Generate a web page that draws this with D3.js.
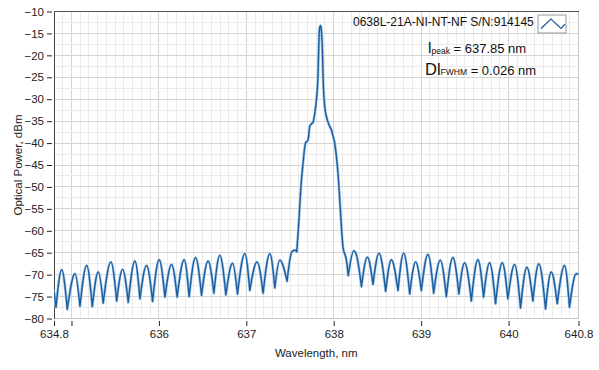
<!DOCTYPE html>
<html>
<head>
<meta charset="utf-8">
<script src="https://cdn.jsdelivr.net/npm/d3@7"></script>
<style>
html,body{margin:0;padding:0;background:#fff;}
svg{display:block;font-family:"Liberation Sans",Arial,sans-serif;}
</style>
</head>
<body>
<svg id="chart" width="599" height="370"></svg>
<script>
// ---- data ----
const wavelength = [
 634.800,634.823,634.888,634.952,635.040,635.097,635.174,635.238,635.306,635.363,
 635.451,635.517,635.585,635.649,635.726,635.783,635.859,635.928,636.003,636.069,
 636.145,636.209,636.289,636.346,636.419,636.488,636.563,636.629,636.697,636.766,
 636.842,636.899,636.983,637.040,637.123,637.192,637.269,637.326,637.383,637.466,
 637.520,637.554,637.577,637.592,637.611,637.631,637.649,637.677,637.706,637.726,
 637.745,637.763,637.783,637.802,637.821,637.829,637.838,637.848,637.857,637.869,
 637.878,637.897,637.917,637.954,637.974,637.992,638.011,638.031,638.049,638.069,
 638.088,638.106,638.145,638.166,638.229,638.251,638.317,638.385,638.449,638.518,
 638.594,638.659,638.735,638.800,638.869,638.937,639.002,639.078,639.143,639.219,
 639.288,639.363,639.432,639.497,639.574,639.649,639.714,639.783,639.851,639.928,
 639.992,640.069,640.137,640.209,640.278,640.346,640.423,640.488,640.557,640.640,
 640.697,640.774,640.800
];
const power = [
 -73.8,-77.4,-68.9,-77.9,-69.8,-77.2,-67.9,-77.3,-69.4,-76.5,
 -67.1,-76.0,-68.8,-76.3,-66.9,-75.5,-67.9,-76.1,-66.6,-75.1,
 -67.7,-75.1,-66.6,-75.0,-66.1,-74.7,-66.9,-74.2,-65.6,-74.6,
 -67.4,-74.4,-65.2,-73.6,-67.1,-74.2,-65.2,-73.0,-66.7,-71.5,
 -64.8,-64.4,-64.8,-60.6,-54.5,-48.4,-44.6,-40.0,-39.3,-36.2,
 -35.6,-35.3,-33.2,-30.1,-24.0,-17.5,-13.8,-13.2,-13.9,-18.0,
 -25.0,-31.7,-34.0,-36.2,-37.0,-38.4,-40.0,-43.1,-46.9,-53.0,
 -59.1,-63.7,-66.7,-70.2,-64.6,-65.0,-72.7,-66.0,-72.2,-65.1,
 -73.8,-66.6,-73.6,-65.1,-74.4,-67.1,-73.6,-65.4,-74.2,-66.7,
 -75.0,-66.1,-74.4,-67.3,-76.0,-66.6,-75.1,-67.3,-76.6,-67.3,
 -75.5,-67.7,-77.6,-68.3,-76.0,-67.5,-77.8,-69.4,-76.6,-67.9,
 -77.4,-69.8,-69.9
];
const xTickValues = [634.8, 635, 636, 637, 638, 639, 640, 640.8];
const xTickLabels = ["634.8", "", "636", "637", "638", "639", "640", "640.8"];
const yTickValues = [-10,-15,-20,-25,-30,-35,-40,-45,-50,-55,-60,-65,-70,-75,-80];
const xDomain = [634.8, 640.8];
const yDomain = [-80, -10];
const xTitle = "Wavelength, nm";
const yTitle = "Optical Power, dBm";
const legendLabel = "0638L-21A-NI-NT-NF S/N:914145";
const peakLabel = ["l", "peak", " = 637.85 nm"];
const fwhmLabel = ["Dl", "FWHM", " = 0.026 nm"];

// ---- layout ----
const L = 54, R = 578.5, T = 11.5, B = 318.5;
const svg = d3.select("#chart");
const x = d3.scaleLinear().domain(xDomain).range([L, R]);
const y = d3.scaleLinear().domain(yDomain).range([B, T]);

// grid
const g = svg.append("g");
const minorX = d3.range(6348, 6409, 1).map(v => v / 10);
const minorY = d3.range(-80, -9.9, 2.5);
g.selectAll(".mx").data(minorX).join("line")
  .attr("x1", d => x(d)).attr("x2", d => x(d)).attr("y1", T).attr("y2", B)
  .attr("stroke", d => Math.abs(d - Math.round(d)) < 1e-6 ? "#d4d4d4" : "#ebebeb")
  .attr("stroke-width", 1).attr("shape-rendering", "crispEdges");
g.selectAll(".my").data(minorY).join("line")
  .attr("x1", L).attr("x2", R).attr("y1", d => y(d)).attr("y2", d => y(d))
  .attr("stroke", d => (d % 5 === 0) ? "#d4d4d4" : "#ebebeb")
  .attr("stroke-width", 1).attr("shape-rendering", "crispEdges");

// frame
svg.append("line").attr("x1", R).attr("x2", R).attr("y1", T).attr("y2", B)
  .attr("stroke", "#c8c8c8").attr("shape-rendering", "crispEdges");
svg.append("line").attr("x1", L).attr("x2", R).attr("y1", B).attr("y2", B)
  .attr("stroke", "#c8c8c8").attr("shape-rendering", "crispEdges");
svg.append("line").attr("x1", L).attr("x2", R).attr("y1", T).attr("y2", T)
  .attr("stroke", "#555").attr("shape-rendering", "crispEdges");
svg.append("line").attr("x1", L).attr("x2", L).attr("y1", T).attr("y2", B)
  .attr("stroke", "#444").attr("shape-rendering", "crispEdges");

// axes
const xAxis = d3.axisBottom(x).tickValues(xTickValues)
  .tickFormat((d, i) => xTickLabels[i]).tickSize(5).tickPadding(4);
const xg = svg.append("g").attr("transform", `translate(0,${B + 2.5})`).call(xAxis);
xg.select(".domain").remove();
xg.selectAll(".tick line").attr("stroke", "#222");
xg.selectAll("text").attr("font-size", "11.5px").attr("fill", "#222")
  .attr("font-family", "Liberation Sans, Arial, sans-serif");

const yAxis = d3.axisLeft(y).tickValues(yTickValues).tickSize(5).tickPadding(3);
const yg = svg.append("g").attr("transform", `translate(${L - 2},0)`).call(yAxis);
yg.select(".domain").remove();
yg.selectAll(".tick line").attr("stroke", "#222");
yg.selectAll("text").attr("font-size", "11.5px").attr("fill", "#222")
  .attr("font-family", "Liberation Sans, Arial, sans-serif");

// titles
svg.append("text").attr("x", (L + R) / 2).attr("y", 357).attr("text-anchor", "middle")
  .attr("font-size", "11.5px").attr("fill", "#222").text(xTitle);
svg.append("text").attr("transform", `translate(22,${(T + B) / 2}) rotate(-90)`)
  .attr("text-anchor", "middle").attr("font-size", "11.5px").attr("fill", "#222").text(yTitle);

// spectrum line: split into arches at local minima so troughs form cusps
const pts = wavelength.map((w, i) => [w, power[i]]);
const segs = [];
let start = 0;
for (let i = 1; i < pts.length - 1; i++) {
  if (pts[i][1] < pts[i - 1][1] && pts[i][1] <= pts[i + 1][1]) {
    segs.push(pts.slice(start, i + 1));
    start = i;
  }
}
segs.push(pts.slice(start));
const line = d3.line().x(d => x(d[0])).y(d => y(d[1])).curve(d3.curveMonotoneX);
const dPath = segs.map(s => line(s)).join("");
svg.append("clipPath").attr("id", "clip").append("rect")
  .attr("x", L).attr("y", T).attr("width", R - L).attr("height", B - T);
const lg = svg.append("g").attr("clip-path", "url(#clip)");
lg.append("path").attr("d", dPath).attr("fill", "none")
  .attr("stroke", "#a6c9e8").attr("stroke-width", 2.8).attr("stroke-linecap", "round").attr("stroke-linejoin", "round");
lg.append("path").attr("d", dPath).attr("fill", "none")
  .attr("stroke", "#1c5d9e").attr("stroke-width", 1.4).attr("stroke-linecap", "round").attr("stroke-linejoin", "round");

// legend
svg.append("text").attr("x", 353).attr("y", 25.5).attr("font-size", "12px").attr("fill", "#111")
  .text(legendLabel);
svg.append("rect").attr("x", 538).attr("y", 15).attr("width", 28).attr("height", 18)
  .attr("fill", "#fff").attr("stroke", "#999");
const iconPts = [[0, 0], [1, 1], [2, 0], [2.4, 0.45]];
const ix = d3.scaleLinear().domain([0, 2.4]).range([541, 565]);
const iy = d3.scaleLinear().domain([0, 1]).range([28.5, 19]);
svg.append("path").attr("d", d3.line().x(d => ix(d[0])).y(d => iy(d[1]))(iconPts))
  .attr("fill", "none").attr("stroke", "#19599a").attr("stroke-width", 1.2);

// annotations
const t1 = svg.append("text").attr("x", 428).attr("y", 53).attr("fill", "#111");
t1.append("tspan").attr("font-size", "15.5px").text(peakLabel[0]);
t1.append("tspan").attr("font-size", "8.5px").attr("dy", 1).text(peakLabel[1]);
t1.append("tspan").attr("font-size", "13px").attr("dy", -1).text(peakLabel[2]);

const t2 = svg.append("text").attr("x", 425).attr("y", 75).attr("fill", "#111");
t2.append("tspan").attr("font-size", "16.5px").text(fwhmLabel[0]);
t2.append("tspan").attr("font-size", "8.5px").attr("dy", 0).text(fwhmLabel[1]);
t2.append("tspan").attr("font-size", "13px").attr("dy", 0).text(fwhmLabel[2]);
</script>
</body>
</html>
